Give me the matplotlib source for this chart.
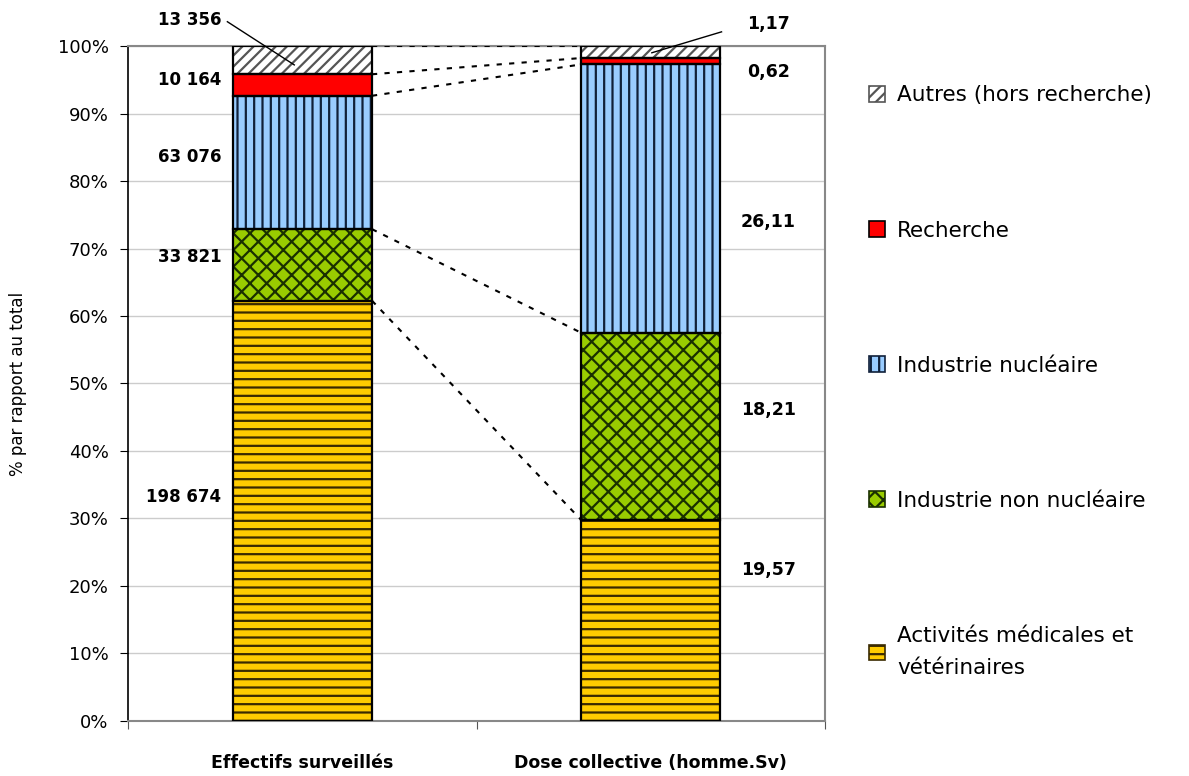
import matplotlib.pyplot as plt
from matplotlib.patches import Patch

plt.rcParams['font.family'] = ['DejaVu Sans']
plt.rcParams['hatch.linewidth'] = 1.6

# Données
colonnes = ["Effectifs surveillés", "Dose collective (homme.Sv)"]
categories = ["Activités médicales et\nvétérinaires", "Industrie non nucléaire",
              "Industrie nucléaire", "Recherche", "Autres (hors recherche)"]
effectifs = [198674, 33821, 63076, 10164, 13356]
dose = [19.57, 18.21, 26.11, 0.62, 1.17]
labels_effectifs = ["198 674", "33 821", "63 076", "10 164", "13 356"]
labels_dose = ["19,57", "18,21", "26,11", "0,62", "1,17"]

# Position verticale (en %) des étiquettes
pos_lab_effectifs = [33.2, 68.7, 83.6, 95.0, 103.9]
pos_lab_dose = [22.4, 46.1, 73.9, 96.1, 103.3]

couleurs = ["#FFCC00", "#99CC00", "#99CCFF", "#FF0000", "#FFFFFF"]
hachures = ["--", "xx", "||", None, "///"]
couleurs_hachures = ["#3a2a00", "#1a3000", "#10203a", "#FF0000", "#555555"]

BAR_W = 0.40


def pourcentages(vals):
    total = sum(vals)
    return [v / total * 100 for v in vals]


fig = plt.figure(figsize=(11.89, 7.76), dpi=100)
ax = fig.add_axes([0.1077, 0.0709, 0.5862, 0.8698])

cumuls = []
for i, vals in enumerate([effectifs, dose]):
    pct = pourcentages(vals)
    bas = 0
    cum = [0]
    for j, p in enumerate(pct):
        # remplissage + hachures
        ax.bar(i, p, BAR_W, bottom=bas, color=couleurs[j], edgecolor=couleurs_hachures[j],
               hatch=hachures[j], linewidth=0, zorder=3)
        # contour noir
        ax.bar(i, p, BAR_W, bottom=bas, fill=False, edgecolor="black", linewidth=1.6, zorder=4)
        bas += p
        cum.append(bas)
    cumuls.append(cum)

# Traits pointillés entre les deux colonnes
for k in [1, 2, 3, 4, 5]:
    ax.plot([BAR_W / 2, 1 - BAR_W / 2], [cumuls[0][k], cumuls[1][k]], color="black",
            linestyle=(0, (2.5, 3.5)), linewidth=1.5, zorder=5)

# Étiquettes de valeurs
for lab, y in zip(labels_effectifs, pos_lab_effectifs):
    ax.text(-0.232, y, lab, ha="right", va="center", fontsize=12, fontweight="bold", clip_on=False)
for lab, y in zip(labels_dose, pos_lab_dose):
    ax.text(1.338, y, lab, ha="center", va="center", fontsize=12.5, fontweight="bold", clip_on=False)

# Traits de rappel
ax.plot([-0.215, -0.023], [103.6, 97.2], color="black", linewidth=1, clip_on=False, zorder=6)
ax.plot([1.203, 1.003], [102.1, 99.0], color="black", linewidth=1, clip_on=False, zorder=6)

ax.set_xlim(-0.5, 1.5)
ax.set_ylim(0, 100)
ax.set_yticks(range(0, 101, 10))
ax.set_yticklabels([f"{v}%" for v in range(0, 101, 10)], fontsize=13)
ax.yaxis.grid(True, color="#CCCCCC", linewidth=1.0, zorder=0)
ax.set_axisbelow(True)

ax.set_xticks([-0.5, 0.5, 1.5])
ax.set_xticklabels([])
ax.set_xticks([0, 1], minor=True)
ax.set_xticklabels(colonnes, minor=True, fontsize=12.5, fontweight="bold")
ax.tick_params(axis="x", which="minor", length=0, pad=24)
ax.tick_params(axis="x", which="major", length=6, direction="out", color="#555555")
ax.tick_params(axis="y", length=6, direction="out", pad=8)

ax.set_ylabel("% par rapport au total", fontsize=12, labelpad=22)

for s in ["top", "right", "bottom"]:
    ax.spines[s].set_color("#888888")
    ax.spines[s].set_linewidth(1.5)
ax.spines["left"].set_color("black")
ax.spines["left"].set_linewidth(1.2)

# Légende
handles = []
for j in reversed(range(5)):
    handles.append(Patch(facecolor=couleurs[j], edgecolor=couleurs_hachures[j] if hachures[j] else "black",
                         hatch=hachures[j], linewidth=1.2, label=categories[j]))
leg = fig.legend(handles=handles, loc="upper left", bbox_to_anchor=(0.7145, 0.915),
                 frameon=False, fontsize=15.5, handlelength=0.75, handleheight=0.75,
                 handletextpad=0.55, labelspacing=5.35)
for t in leg.get_texts():
    t.set_linespacing(1.75)

fig.savefig("out.png", dpi=100)
